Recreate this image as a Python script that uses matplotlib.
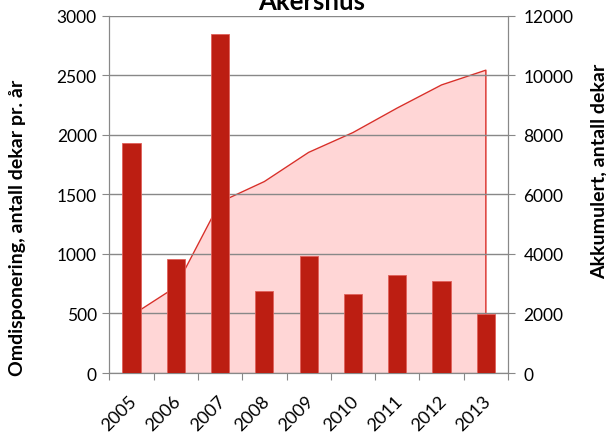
import matplotlib
matplotlib.use('Agg')
import matplotlib.pyplot as plt
import matplotlib.transforms as mtransforms
import numpy as np

plt.rcParams['font.family'] = ['Lato', 'DejaVu Sans']

years = ['2005', '2006', '2007', '2008', '2009', '2010', '2011', '2012', '2013']
omdisponert = [1930, 960, 2850, 690, 980, 665, 825, 775, 495]
akkumulert = [1930, 2890, 5740, 6430, 7410, 8075, 8900, 9675, 10170]

fig = plt.figure(figsize=(6.06, 4.39), dpi=100)
ax = fig.add_axes([0.1804, 0.148, 0.6579, 0.814])
ax2 = ax.twinx()

x = np.arange(len(years))

# area on secondary axis, drawn behind the bars
ax2.fill_between(x, 0, akkumulert, color='#FF9999', alpha=0.4, linewidth=0, zorder=1)
ax2.plot(np.r_[x, x[-1]], np.r_[akkumulert, 0], color='#D9302A', linewidth=1.0, zorder=2)
ax2.set_ylim(0, 12000)
ax2.set_yticks(np.arange(0, 12001, 2000))

ax.set_zorder(ax2.get_zorder() + 1)
ax.patch.set_visible(False)

ax.bar(x, omdisponert, width=0.41, color='#BC1E12', edgecolor='#E0605A', linewidth=0.6, zorder=3)
ax.set_ylim(0, 3000)
ax.set_yticks(np.arange(0, 3001, 500))
ax.set_xlim(-0.5, len(years) - 0.5)
ax.yaxis.grid(True, color='#888888', linewidth=1.0)
ax.set_axisbelow(True)

ax.set_xticks(np.arange(-0.5, len(years), 1.0))
ax.set_xticklabels([])
ax.set_xticks(x, minor=True)
ax.set_xticklabels(years, minor=True, rotation=45, ha='right', va='top',
                   rotation_mode='anchor', fontsize=13)
ax.tick_params(axis='x', which='minor', length=0, pad=14)
ax.tick_params(axis='x', which='major', length=5, color='#888888')
ax.tick_params(axis='y', length=5, color='#888888', labelsize=12.5, pad=4)
ax2.tick_params(axis='y', length=5, color='#888888', labelsize=12.5, pad=6)

shift = mtransforms.ScaledTranslation(-3 / 100, 0, fig.dpi_scale_trans)
for lbl in ax.get_xticklabels(minor=True):
    lbl.set_transform(lbl.get_transform() + shift)

for a in (ax, ax2):
    for s in a.spines.values():
        s.set_color('#888888')
    a.spines['top'].set_visible(False)

ax.set_ylabel('Omdisponering, antall dekar pr. år', fontsize=14, fontweight='bold',
              va='center')
ax.yaxis.set_label_coords(-0.2315, 0.409)
ax2.set_ylabel('Akkumulert, antall dekar', fontsize=14, fontweight='bold', va='center')
ax2.yaxis.set_label_coords(1.228, 0.568)

fig.text(0.514, 1 - 10 / 439, 'Akershus', ha='center', va='baseline',
         fontsize=18.5, fontweight='bold')

fig.savefig('out.png', dpi=100)
